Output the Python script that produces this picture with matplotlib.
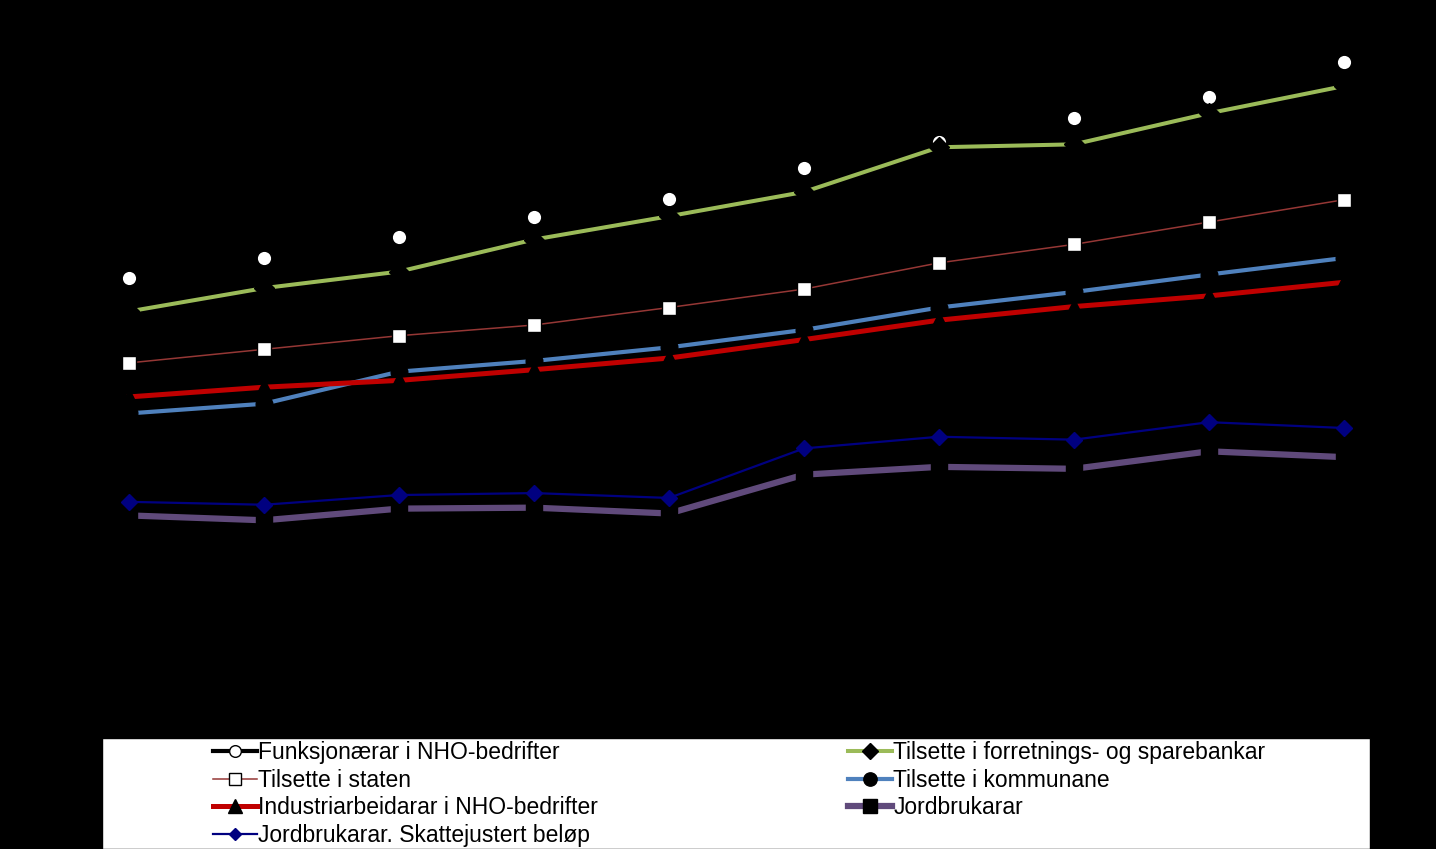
import numpy as np
import matplotlib.pyplot as plt
from matplotlib.patches import Rectangle

plt.rcParams['font.family'] = ['Liberation Sans', 'DejaVu Sans']

# income level, 1000 kr (axis labels are not visible)
years = ['2003', '2004', '2005', '2006', '2007', '2008', '2009', '2010', '2011', '2012']
funksjonaerar = [434, 455, 477, 497, 516, 548, 574, 599, 621, 657]
bankar = [400, 424, 441, 474, 498, 523, 569, 572, 604, 632]
staten = [347, 361, 375, 386, 404, 423, 450, 469, 492, 515]
kommunane = [295, 305, 338, 349, 363, 381, 404, 420, 438, 455]
industri = [312, 322, 329, 340, 352, 371, 391, 405, 416, 430]
jordbruk = [190, 185, 197, 198, 192, 232, 240, 238, 256, 250]
jordbruk_skatt = [204, 201, 211, 213, 208, 259, 271, 268, 286, 280]

x = np.arange(len(years))

fig = plt.figure(figsize=(14.36, 8.49), dpi=100, facecolor='black')
ax = fig.add_axes([61.5/1436, 1 - 700/849, 1350/1436, 680/849])
ax.set_facecolor('black')

l1, = ax.plot(x, funksjonaerar, color='black', lw=3, marker='o', ms=10.5,
              mfc='white', mec='black', mew=1, label='Funksjonærar i NHO-bedrifter')
l2, = ax.plot(x, bankar, color='#9BBB59', lw=2.9, marker='D', ms=10,
              mfc='black', mec='black', label='Tilsette i forretnings- og sparebankar')
l3, = ax.plot(x, staten, color='#953735', lw=1.1, marker='s', ms=10.5,
              mfc='white', mec='black', mew=1, label='Tilsette i staten')
l4, = ax.plot(x, kommunane, color='#4F81BD', lw=3, marker='o', ms=12,
              mfc='black', mec='black', label='Tilsette i kommunane')
l5, = ax.plot(x, industri, color='#C00000', lw=3.6, marker='^', ms=12,
              mfc='black', mec='black', label='Industriarbeidarar i NHO-bedrifter')
l6, = ax.plot(x, jordbruk, color='#604A7B', lw=4.5, marker='s', ms=12,
              mfc='black', mec='black', label='Jordbrukarar')
l7, = ax.plot(x, jordbruk_skatt, color='#000080', lw=1.6, marker='D', ms=8,
              mfc='#000080', mec='#000080', label='Jordbrukarar. Skattejustert beløp')

ax.set_xlim(-0.5, len(years) - 0.5)
ax.set_ylim(0, 700)
ax.set_xticks(x)
ax.set_xticklabels(years, color='black')
ax.tick_params(colors='black', labelcolor='black')
for s in ax.spines.values():
    s.set_color('black')

# white legend box, runs off the bottom edge
fig.patches.append(Rectangle((102/1436, 0), (1370-102)/1436, 1 - 738/849,
                             transform=fig.transFigure, facecolor='white',
                             edgecolor='black', zorder=1))

fig.legend(handles=[l1, l3, l5, l7, l2, l4, l6], ncol=2,
           loc='upper left', bbox_to_anchor=(213/1436, 1 - 741/849),
           frameon=False, fontsize=16.5, handlelength=1.9, handletextpad=0.08,
           columnspacing=10.9, labelspacing=0.2, borderpad=0, borderaxespad=0,
           markerscale=0.8)

fig.savefig('out.png', dpi=100, facecolor='black')
